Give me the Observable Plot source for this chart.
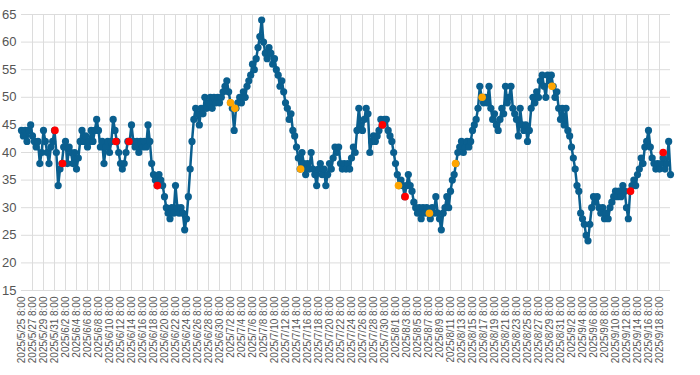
<!DOCTYPE html>
<html>
<head>
<meta charset="utf-8">
<script src="https://cdn.jsdelivr.net/npm/d3@7"></script>
<script src="https://cdn.jsdelivr.net/npm/@observablehq/plot@0.6"></script>
<style>
  html, body { margin: 0; padding: 0; background: #fff; }
  #chart svg { display: block; }
</style>
</head>
<body>
<div id="chart"></div>
<script>
// Series: one reading every 8 hours starting 2025/5/25 8:00
const startTime = Date.UTC(2025, 4, 25, 8);
const stepHours = 8;
const values = [
  44,43,44,42,44,45,43,42,41,42,
  38,40,44,42,40,38,41,42,44,40,
  34,37,38,41,42,38,41,40,38,40,
  37,39,42,44,42,43,41,42,44,42,
  44,46,44,41,42,38,41,42,40,42,
  46,44,42,40,38,37,38,40,42,42,
  45,42,41,42,40,42,41,42,41,45,
  42,38,36,35,34,36,35,34,32,30,
  29,28,30,29,34,30,29,30,29,26,
  28,32,37,42,46,48,47,45,48,47,
  50,48,49,50,48,50,49,50,49,50,
  51,52,53,51,49,48,44,48,49,50,
  49,51,50,52,53,54,56,55,57,59,
  61,64,60,58,57,59,58,56,57,55,
  54,52,53,51,49,48,46,47,44,43,
  41,39,37,40,38,36,38,37,40,37,
  36,34,37,38,36,37,34,36,38,37,
  39,41,40,41,38,37,38,37,38,37,
  39,41,40,44,48,45,44,46,48,47,
  40,42,43,42,43,44,46,45,46,46,
  44,43,42,40,38,36,34,35,34,32,
  34,36,34,33,31,30,29,30,28,30,
  29,30,29,28,30,29,32,29,28,26,
  29,30,32,30,33,35,36,38,40,41,
  42,40,41,42,41,42,44,45,46,48,
  52,50,49,50,49,52,48,46,47,45,
  44,46,48,47,52,49,50,52,48,47,
  46,43,48,45,44,45,42,44,48,50,
  49,51,50,53,54,52,50,54,53,54,
  52,50,51,48,46,48,45,48,44,43,
  41,39,37,34,33,29,28,27,25,24,
  27,30,32,31,32,30,29,30,28,29,
  28,30,31,32,33,32,33,32,34,33,
  30,28,33,34,35,34,36,37,39,38,
  41,42,44,41,39,38,37,38,37,38,
  39,37,38,42,36
];

// Highlighted readings
const markerTimes = [
  "2025-05-31T10:00Z","2025-06-01T19:00Z","2025-06-11T12:00Z","2025-06-13T21:00Z","2025-06-19T01:00Z",
  "2025-07-02T08:00Z","2025-07-03T03:00Z","2025-07-15T02:00Z","2025-07-29T23:00Z","2025-08-01T21:00Z",
  "2025-08-03T02:00Z","2025-08-07T12:00Z","2025-08-12T06:00Z","2025-08-17T02:00Z","2025-08-29T19:00Z",
  "2025-09-13T01:30Z","2025-09-19T00:00Z"
];
const markerValues = [44,38,42,42,34,49,48,37,45,34,32,29,38,50,52,33,40];
const markerKinds  = ["red","red","red","red","red","orange","orange","orange","red","orange",
                      "red","orange","orange","orange","orange","red","red"];

// Axis ticks
const yTicks = [15,20,25,30,35,40,45,50,55,60,65];
const xTickCount = 59;      // labels every 2 days at 8:00, 5/25 .. 9/18
const xTickStepDays = 2;

const BLUE = "#0a5f8f";
const markerColor = {red: "#ff0000", orange: "#ffa500"};

const data = values.map((v, i) => ({t: new Date(startTime + i * stepHours * 3600e3), v}));
const markers = markerTimes.map((s, i) => ({t: new Date(s), v: markerValues[i], c: markerColor[markerKinds[i]]}));
const xTicks = d3.range(xTickCount).map(k => new Date(startTime + k * xTickStepDays * 86400e3));
const fmt = d3.utcFormat("%Y/%-m/%-d %-H:%M");

const chart = Plot.plot({
  width: 700,
  height: 375,
  marginLeft: 21,
  marginRight: 30,
  marginTop: 14,
  marginBottom: 85,
  style: {fontFamily: "'Liberation Sans', Arial, sans-serif", background: "#fff", color: "#555"},
  x: {type: "utc", domain: [data[0].t, data[data.length - 1].t]},
  y: {domain: [15, 65]},
  marks: [
    Plot.gridY(yTicks, {stroke: "#dcdcdc", strokeOpacity: 1, strokeWidth: 1}),
    Plot.gridX(xTicks.slice(1), {stroke: "#dcdcdc", strokeOpacity: 1, strokeWidth: 1}),
    Plot.line(data, {x: "t", y: "v", stroke: BLUE, strokeWidth: 2.5}),
    Plot.dot(data, {x: "t", y: "v", r: 3.6, fill: BLUE}),
    Plot.dot(markers, {x: "t", y: "v", r: 3.8, fill: "c"}),
    Plot.axisY(yTicks, {tickSize: 0, tickPadding: 5, fontSize: 13, fill: "#555", label: null}),
    Plot.axisX(xTicks, {tickSize: 0, tickPadding: 6, tickRotate: -90, fontSize: 10, fill: "#555",
                        tickFormat: d => fmt(d), label: null})
  ]
});
document.getElementById("chart").appendChild(chart);
</script>
</body>
</html>
